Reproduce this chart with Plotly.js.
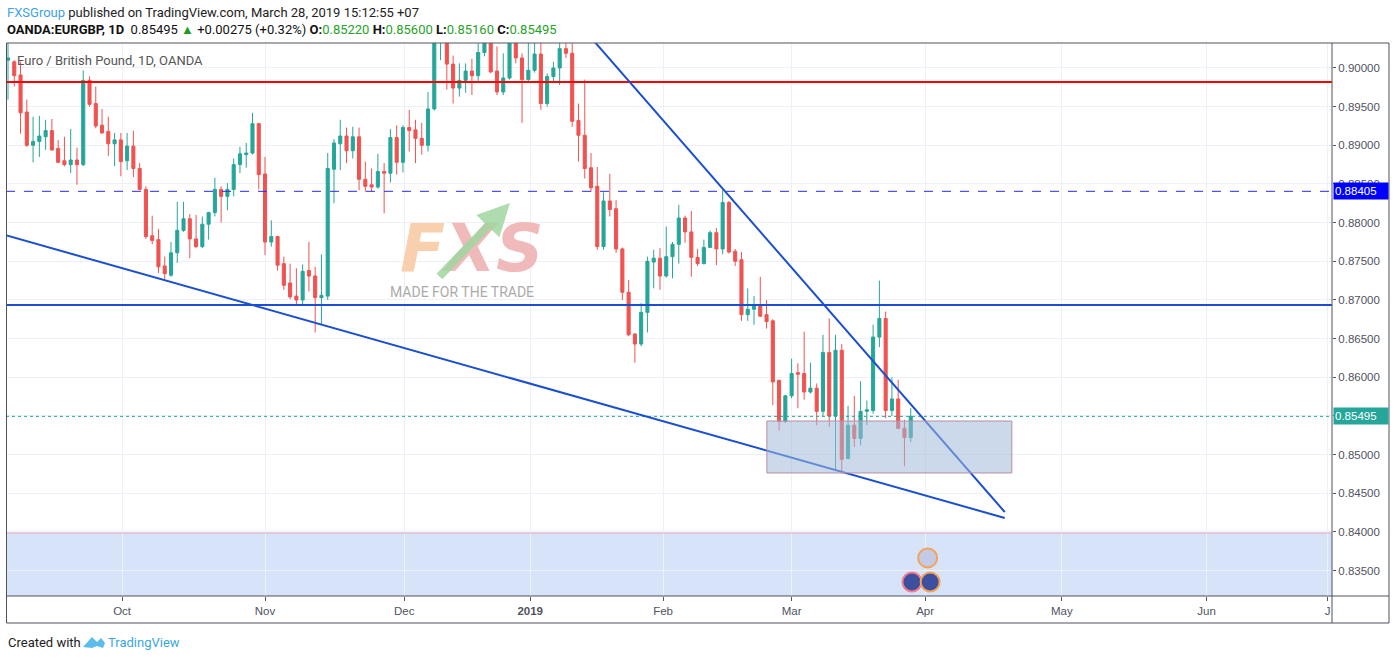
<!DOCTYPE html>
<html>
<head>
<meta charset="utf-8">
<script src="https://cdn.plot.ly/plotly-3.0.1.min.js"></script>
<style>
  html, body { margin: 0; padding: 0; background: #fff; }
  #chart { width: 1396px; height: 660px; }
</style>
</head>
<body>
<div id="chart"></div>
<script>
// EUR/GBP daily candles, Sep 2018 -> 28 Mar 2019 (one entry per trading day)
const open = [
  0.9010, 0.9008, 0.8991, 0.8943, 0.8900, 0.8905, 0.8911, 0.8919, 0.8896, 0.8880,
  0.8875, 0.8881, 0.8875, 0.8984, 0.8954, 0.8926, 0.8918, 0.8902, 0.8907, 0.8880,
  0.8899, 0.8870, 0.8843, 0.8783, 0.8778, 0.8744, 0.8732, 0.8761, 0.8790, 0.8805,
  0.8779, 0.8769, 0.8798, 0.8813, 0.8843, 0.8834, 0.8843, 0.8875, 0.8888, 0.8890,
  0.8928, 0.8863, 0.8775, 0.8782, 0.8747, 0.8722, 0.8705, 0.8700, 0.8738, 0.8731,
  0.8703, 0.8705, 0.8869, 0.8902, 0.8912, 0.8893, 0.8911, 0.8856, 0.8849, 0.8846,
  0.8866, 0.8864, 0.8910, 0.8878, 0.8923, 0.8920, 0.8909, 0.8900, 0.8947, 0.9045,
  0.9060, 0.9005, 0.8974, 0.8984, 0.8996, 0.8990, 0.9020, 0.9040, 0.8996, 0.8969,
  0.8987, 0.9045, 0.9013, 0.8985, 0.8997, 0.9018, 0.8954, 0.8989, 0.9000, 0.9025,
  0.9019, 0.8932, 0.8913, 0.8871, 0.8847, 0.8769, 0.8828, 0.8818, 0.8766, 0.8710,
  0.8656, 0.8643, 0.8684, 0.8749, 0.8754, 0.8731, 0.8756, 0.8772, 0.8806, 0.8788,
  0.8755, 0.8747, 0.8768, 0.8787, 0.8766, 0.8826, 0.8763, 0.8752, 0.8681, 0.8688,
  0.8693, 0.8681, 0.8673, 0.8596, 0.8543, 0.8576, 0.8606, 0.8605, 0.8581, 0.8586,
  0.8556, 0.8632, 0.8550, 0.8635, 0.8495, 0.8538, 0.8521, 0.8556, 0.8557, 0.8652,
  0.8676, 0.8557, 0.8572, 0.8534, 0.8522
];
const high = [
  0.9032, 0.9010, 0.9008, 0.8959, 0.8937, 0.8938, 0.8933, 0.8934, 0.8907, 0.8911,
  0.8921, 0.8897, 0.8997, 0.8989, 0.8976, 0.8947, 0.8937, 0.8916, 0.8916, 0.8916,
  0.8919, 0.8877, 0.8847, 0.8809, 0.8792, 0.8756, 0.8775, 0.8827, 0.8827, 0.8811,
  0.8810, 0.8808, 0.8814, 0.8858, 0.8847, 0.8851, 0.8883, 0.8898, 0.8903, 0.8942,
  0.8929, 0.8885, 0.8803, 0.8783, 0.8756, 0.8747, 0.8741, 0.8746, 0.8775, 0.8743,
  0.8759, 0.8890, 0.8908, 0.8933, 0.8923, 0.8924, 0.8923, 0.8879, 0.8870, 0.8889,
  0.8877, 0.8921, 0.8926, 0.8926, 0.8946, 0.8933, 0.8929, 0.8969, 0.9060, 0.9090,
  0.9075, 0.9016, 0.9006, 0.9006, 0.9012, 0.9032, 0.9045, 0.9050, 0.9028, 0.9019,
  0.9055, 0.9050, 0.9019, 0.9040, 0.9040, 0.9040, 0.8993, 0.9008, 0.9032, 0.9032,
  0.9032, 0.8954, 0.8985, 0.8890, 0.8872, 0.8839, 0.8863, 0.8829, 0.8768, 0.8726,
  0.8657, 0.8696, 0.8756, 0.8765, 0.8767, 0.8795, 0.8775, 0.8823, 0.8809, 0.8815,
  0.8766, 0.8778, 0.8790, 0.8793, 0.8842, 0.8828, 0.8766, 0.8762, 0.8715, 0.8705,
  0.8730, 0.8700, 0.8675, 0.8597, 0.8577, 0.8624, 0.8618, 0.8659, 0.8619, 0.8592,
  0.8655, 0.8676, 0.8655, 0.8643, 0.8563, 0.8576, 0.8595, 0.8570, 0.8668, 0.8725,
  0.8685, 0.8600, 0.8597, 0.8545, 0.8560
];
const low = [
  0.8959, 0.8976, 0.8915, 0.8898, 0.8878, 0.8885, 0.8894, 0.8893, 0.8877, 0.8873,
  0.8864, 0.8849, 0.8873, 0.8950, 0.8922, 0.8915, 0.8886, 0.8873, 0.8860, 0.8868,
  0.8859, 0.8842, 0.8779, 0.8772, 0.8735, 0.8727, 0.8730, 0.8748, 0.8788, 0.8754,
  0.8767, 0.8767, 0.8778, 0.8808, 0.8800, 0.8816, 0.8834, 0.8864, 0.8871, 0.8888,
  0.8843, 0.8758, 0.8769, 0.8738, 0.8713, 0.8701, 0.8694, 0.8694, 0.8711, 0.8658,
  0.8669, 0.8700, 0.8825, 0.8868, 0.8877, 0.8883, 0.8842, 0.8840, 0.8840, 0.8844,
  0.8812, 0.8852, 0.8862, 0.8865, 0.8892, 0.8877, 0.8888, 0.8892, 0.8945, 0.9010,
  0.8972, 0.8954, 0.8963, 0.8968, 0.8965, 0.8982, 0.9015, 0.8993, 0.8965, 0.8965,
  0.8985, 0.9006, 0.8929, 0.8982, 0.8994, 0.8946, 0.8950, 0.8982, 0.8978, 0.9013,
  0.8924, 0.8879, 0.8857, 0.8840, 0.8765, 0.8765, 0.8808, 0.8761, 0.8700, 0.8653,
  0.8619, 0.8640, 0.8658, 0.8715, 0.8713, 0.8729, 0.8728, 0.8747, 0.8774, 0.8730,
  0.8744, 0.8746, 0.8767, 0.8745, 0.8759, 0.8760, 0.8744, 0.8673, 0.8673, 0.8668,
  0.8678, 0.8663, 0.8564, 0.8531, 0.8541, 0.8573, 0.8560, 0.8571, 0.8579, 0.8538,
  0.8549, 0.8536, 0.8481, 0.8476, 0.8494, 0.8510, 0.8512, 0.8538, 0.8553, 0.8639,
  0.8547, 0.8550, 0.8533, 0.8485, 0.8516
];
const close = [
  0.9013, 0.8990, 0.8942, 0.8900, 0.8905, 0.8912, 0.8919, 0.8894, 0.8878, 0.8875,
  0.8881, 0.8875, 0.8984, 0.8953, 0.8925, 0.8916, 0.8902, 0.8907, 0.8879, 0.8899,
  0.8870, 0.8843, 0.8782, 0.8777, 0.8743, 0.8734, 0.8761, 0.8790, 0.8805, 0.8779,
  0.8769, 0.8798, 0.8813, 0.8843, 0.8834, 0.8843, 0.8875, 0.8889, 0.8890, 0.8928,
  0.8862, 0.8775, 0.8782, 0.8745, 0.8719, 0.8704, 0.8700, 0.8737, 0.8731, 0.8703,
  0.8706, 0.8870, 0.8903, 0.8912, 0.8893, 0.8911, 0.8856, 0.8847, 0.8846, 0.8866,
  0.8864, 0.8910, 0.8878, 0.8923, 0.8919, 0.8909, 0.8900, 0.8947, 0.9045, 0.9070,
  0.9005, 0.8974, 0.8984, 0.8996, 0.8990, 0.9020, 0.9038, 0.8995, 0.8969, 0.8987,
  0.9045, 0.9013, 0.8985, 0.8997, 0.9018, 0.8954, 0.8989, 0.9000, 0.9025, 0.9019,
  0.8931, 0.8913, 0.8870, 0.8845, 0.8769, 0.8828, 0.8817, 0.8766, 0.8710, 0.8655,
  0.8643, 0.8684, 0.8750, 0.8754, 0.8731, 0.8756, 0.8772, 0.8806, 0.8788, 0.8755,
  0.8747, 0.8768, 0.8787, 0.8766, 0.8826, 0.8762, 0.8750, 0.8681, 0.8688, 0.8692,
  0.8679, 0.8672, 0.8594, 0.8543, 0.8576, 0.8605, 0.8604, 0.8581, 0.8586, 0.8556,
  0.8632, 0.8550, 0.8635, 0.8494, 0.8538, 0.8521, 0.8556, 0.8558, 0.8652, 0.8676,
  0.8557, 0.8572, 0.8534, 0.8522, 0.85495
];

// month ticks, given as bar index (future months continue the same spacing)
const monthTickIdx = [18.2, 41.0, 63.2, 83.3, 104.5, 125.0, 146.3, 168.1, 191.2, 210.5];
const monthTickText = ["Oct", "Nov", "Dec", "<b>2019</b>", "Feb", "Mar", "Apr", "May", "Jun", "J"];

// price scale ticks (0.85500 sits under the last-price badge)
const priceTicks = [0.835, 0.840, 0.845, 0.850, 0.855, 0.860, 0.865, 0.870,
                    0.875, 0.880, 0.885, 0.890, 0.895, 0.900];
const priceTickText = ["0.83500", "0.84000", "0.84500", "0.85000", "", "0.86000", "0.86500",
                       "0.87000", "0.87500", "0.88000", "0.88500", "0.89000", "0.89500", "0.90000"];

// price levels
const resistanceLevel = 0.89819;   // red line
const supportLevel = 0.86935;      // blue line
const alertLevel = 0.88405;        // dashed blue line
const lastPrice = 0.85495;

// calendar events (UK / EU flags) near the bottom
const eventIdx = [146.7, 144.2, 147.1];
const eventPrice = [0.83664, 0.83353, 0.83353];
const eventFill = ["#c3cae6", "#3d509f", "#3d509f"];
const eventRing = ["#f5a25a", "#f47a8c", "#f5a25a"];

// ---------------------------------------------------------------------------

const W = 1396, H = 660;
const M = { l: 6, r: 64, t: 43, b: 64 };
const PW = W - M.l - M.r, PH = H - M.t - M.b;
const px2x = (px) => (px - M.l) / PW;
const py2y = (py) => (H - M.b - py) / PH;

const UP = "#26a69a";
const DOWN = "#ef5350";
const AXIS_TXT = "#50535e";
const GRID = "#edf1f7";
const FRAME = "#50535e";

const xIdx = open.map((_, i) => i);

const candles = {
  type: "candlestick",
  x: xIdx,
  open, high, low, close,
  increasing: { line: { color: UP, width: 1 }, fillcolor: UP },
  decreasing: { line: { color: DOWN, width: 1 }, fillcolor: DOWN },
  whiskerwidth: 0,
  hoverinfo: "skip",
  showlegend: false,
};

const events = {
  type: "scatter",
  mode: "markers",
  x: eventIdx,
  y: eventPrice,
  marker: { size: 19, color: eventFill, line: { color: eventRing, width: 2 } },
  hoverinfo: "skip",
  showlegend: false,
};

const shapes = [
  // lower shaded zone
  { type: "rect", xref: "paper", yref: "y", x0: 0, x1: 1, y0: 0.80, y1: 0.83987,
    fillcolor: "#d6e3f8", line: { width: 0 }, layer: "below" },
  { type: "line", xref: "paper", yref: "y", x0: 0, x1: 1, y0: 0.83987, y1: 0.83987,
    line: { color: "#e2a6b8", width: 1 } },
  // horizontal levels
  { type: "line", xref: "paper", yref: "y", x0: 0, x1: 1, y0: resistanceLevel, y1: resistanceLevel,
    line: { color: "#ff0000", width: 2 } },
  { type: "line", xref: "paper", yref: "y", x0: 0, x1: 1, y0: supportLevel, y1: supportLevel,
    line: { color: "#1a4fd0", width: 2 } },
  { type: "line", xref: "paper", yref: "y", x0: 0, x1: 1, y0: alertLevel, y1: alertLevel,
    line: { color: "#2a2ae8", width: 1, dash: "dash" } },
  { type: "line", xref: "paper", yref: "y", x0: 0, x1: 1, y0: lastPrice, y1: lastPrice,
    line: { color: UP, width: 1, dash: "dot" } },
  // trend lines
  { type: "line", x0: -0.48, y0: 0.87840, x1: 159.0, y1: 0.84181,
    line: { color: "#1a4fd0", width: 2 } },
  { type: "line", x0: 93.6, y0: 0.90336, x1: 159.0, y1: 0.84258,
    line: { color: "#1a4fd0", width: 2 } },
  // consolidation box
  { type: "rect", x0: 121.05, x1: 160.13, y0: 0.84763, y1: 0.85435,
    fillcolor: "rgba(160,186,216,0.55)", line: { color: "#b48ea3", width: 1 } },
  // frame
  { type: "rect", xref: "paper", yref: "paper", x0: px2x(6.5), x1: px2x(1389), y0: py2y(623), y1: 1,
    line: { color: FRAME, width: 1 } },
  { type: "line", xref: "paper", yref: "paper", x0: 0, x1: px2x(1389), y0: 0, y1: 0,
    line: { color: FRAME, width: 1 } },
  { type: "line", xref: "paper", yref: "paper", x0: 1, x1: 1, y0: py2y(623), y1: 1,
    line: { color: FRAME, width: 1 } },
];

const green = "#27a327";
const annotations = [
  { xref: "paper", yref: "paper", x: px2x(5), y: py2y(12), xanchor: "left", yanchor: "middle",
    showarrow: false, font: { family: "Roboto", size: 13, color: "#222" },
    text: '<span style="color:#3ca4e6">FXSGroup</span> published on TradingView.com, March 28, 2019 15:12:55 +07' },
  { xref: "paper", yref: "paper", x: px2x(5), y: py2y(29), xanchor: "left", yanchor: "middle",
    showarrow: false, font: { family: "Roboto", size: 13, color: "#111" },
    text: '<b>OANDA:EURGBP, 1D</b>  0.85495 <span style="color:#1c9e1c">▲</span> +0.00275 (+0.32%) ' +
      '<b>O:</b><span style="color:' + green + '">0.85220</span> ' +
      '<b>H:</b><span style="color:' + green + '">0.85600</span> ' +
      '<b>L:</b><span style="color:' + green + '">0.85160</span> ' +
      '<b>C:</b><span style="color:' + green + '">0.85495</span>' },
  { xref: "paper", yref: "paper", x: px2x(15), y: py2y(61), xanchor: "left", yanchor: "middle",
    showarrow: false, font: { family: "Roboto", size: 13, color: "#555" },
    text: "Euro / British Pound, 1D, OANDA" },
  // watermark
  { xref: "paper", yref: "paper", x: px2x(472), y: py2y(249), showarrow: false,
    font: { family: "DejaVu Sans", size: 66, color: "#f1baba" },
    text: '<b><i><span style="color:#f9d0ae">F</span>XS</i></b>' },
  { xref: "paper", yref: "paper", x: px2x(510), y: py2y(203), ax: -72, ay: 75, text: "",
    showarrow: true, arrowhead: 2, arrowsize: 0.8, arrowwidth: 8, arrowcolor: "rgba(160,214,160,0.85)" },
  { xref: "paper", yref: "paper", x: px2x(462), y: py2y(292), showarrow: false,
    font: { family: "Roboto", size: 14, color: "#ababab" }, text: "MADE FOR THE TRADE" },
  // price-axis badges
  { xref: "paper", yref: "y", x: 1, y: alertLevel, xanchor: "left", yanchor: "middle", xshift: 1,
    showarrow: false, text: "0.88405", bgcolor: "#0000ff", width: 52, height: 14, borderpad: 1,
    align: "left", font: { family: "Liberation Sans", size: 11.5, color: "#fff" } },
  { xref: "paper", yref: "y", x: 1, y: lastPrice, xanchor: "left", yanchor: "middle", xshift: 1,
    showarrow: false, text: "0.85495", bgcolor: UP, width: 52, height: 14, borderpad: 1,
    align: "left", font: { family: "Liberation Sans", size: 11.5, color: "#fff" } },
  // footer
  { xref: "paper", yref: "paper", x: px2x(6), y: py2y(642), xanchor: "left", yanchor: "middle",
    showarrow: false, font: { family: "Roboto", size: 13, color: "#222" }, text: "Created with" },
  { xref: "paper", yref: "paper", x: px2x(106), y: py2y(642), xanchor: "left", yanchor: "middle",
    showarrow: false, font: { family: "Roboto", size: 13, color: "#3aa7e4" }, text: "TradingView" },
];

// small TradingView logo next to the footer text
const lx = (px) => px2x(px), ly = (py) => py2y(py);
shapes.push({
  type: "path", xref: "paper", yref: "paper",
  path: `M ${lx(83)},${ly(647)} L ${lx(92)},${ly(637)} L ${lx(97)},${ly(642)} L ${lx(101)},${ly(638)} ` +
        `L ${lx(105)},${ly(643)} L ${lx(103)},${ly(648)} L ${lx(97)},${ly(646)} L ${lx(92)},${ly(648)} Z`,
  fillcolor: "#5cbcec", line: { width: 0 },
});

const layout = {
  width: W, height: H,
  margin: M,
  paper_bgcolor: "#fff",
  plot_bgcolor: "#fff",
  showlegend: false,
  dragmode: false,
  xaxis: {
    range: [-0.32, 211.2],
    rangeslider: { visible: false },
    tickmode: "array",
    tickvals: monthTickIdx,
    ticktext: monthTickText,
    ticks: "outside", ticklen: 4, tickcolor: FRAME,
    tickfont: { family: "Liberation Sans", size: 11.5, color: AXIS_TXT },
    showgrid: true, gridcolor: GRID,
    zeroline: false, showline: false,
    fixedrange: true,
  },
  yaxis: {
    side: "right",
    range: [0.83172, 0.90323],
    tickmode: "array",
    tickvals: priceTicks,
    ticktext: priceTickText,
    ticks: "outside", ticklen: 3, tickcolor: FRAME,
    tickfont: { family: "Liberation Sans", size: 11.5, color: AXIS_TXT },
    showgrid: true, gridcolor: GRID,
    zeroline: false, showline: false,
    fixedrange: true,
  },
  shapes,
  annotations,
};

Plotly.newPlot("chart", [candles, events], layout, { displayModeBar: false, staticPlot: true });
</script>
</body>
</html>
